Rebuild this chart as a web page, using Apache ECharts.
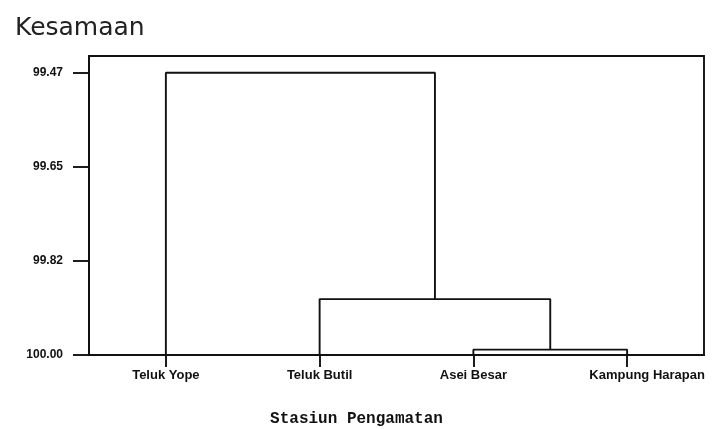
<!DOCTYPE html>
<html>
<head>
<meta charset="utf-8">
<title>Dendrogram Kesamaan Stasiun</title>
<script src="https://cdn.jsdelivr.net/npm/echarts@6/dist/echarts.min.js"></script>
<style>
  html, body { margin: 0; padding: 0; background: #fff; }
  #chart { width: 712px; height: 429px; }
</style>
</head>
<body>
<div id="chart"></div>
<script>
// Observation stations, in leaf order along the horizontal axis
const stations = ['Teluk Yope', 'Teluk Butil', 'Asei Besar', 'Kampung Harapan'];

// Agglomeration steps: each joins two members at a similarity level.
// A string is a station; a number refers to the cluster made at that step (1-based).
const joinLeft = ['Asei Besar', 'Teluk Butil', 'Teluk Yope'];
const joinRight = ['Kampung Harapan', 1, 2];
const joinSimilarity = [99.990, 99.895, 99.47];

// Similarity axis tick values (evenly spaced between min similarity and 100)
const similarityTicks = [99.47, 99.6467, 99.8233, 100.00];

const leafLevel = 100;
const clusters = [];
function locate(member) {
  if (typeof member === 'string') {
    return { x: stations.indexOf(member), h: leafLevel };
  }
  return clusters[member - 1];
}

const links = [];
for (let i = 0; i < joinSimilarity.length; i++) {
  const a = locate(joinLeft[i]);
  const b = locate(joinRight[i]);
  const h = joinSimilarity[i];
  links.push([[a.x, a.h], [a.x, h], [b.x, h], [b.x, b.h]]);
  clusters.push({ x: (a.x + b.x) / 2, h: h });
}

const ink = '#111';
const stroke = 1.9;
const labelFont = {
  color: '#111',
  fontFamily: 'Liberation Sans',
  fontWeight: 'bold',
  fontSize: 13
};

const chart = echarts.init(document.getElementById('chart'), null, { renderer: 'canvas' });

chart.setOption({
  animation: false,
  backgroundColor: '#fff',
  title: {
    text: 'Kesamaan',
    left: 10,
    top: 11,
    textStyle: {
      fontFamily: 'DejaVu Sans',
      fontSize: 25,
      fontWeight: 'normal',
      color: '#222'
    }
  },
  grid: {
    left: 89,
    right: 8,
    top: 56,
    bottom: 74,
    show: true,
    borderColor: ink,
    borderWidth: stroke,
    outerBoundsMode: 'none'
  },
  xAxis: [
    {
      type: 'category',
      data: stations,
      boundaryGap: true,
      axisLine: { onZero: false, lineStyle: { color: ink, width: stroke } },
      axisTick: {
        show: true,
        interval: 0,
        alignWithLabel: true,
        inside: false,
        length: 12,
        lineStyle: { color: ink, width: stroke }
      },
      axisLabel: Object.assign({
        interval: 0,
        margin: 14,
        formatter: function (v, i) {
          return i === stations.length - 1 ? '{last|' + v + '}' : v;
        },
        rich: {
          last: Object.assign({ padding: [0, 0, 0, 40] }, labelFont)
        }
      }, labelFont),
      splitLine: { show: false },
      name: 'Stasiun Pengamatan',
      nameLocation: 'middle',
      nameGap: 56,
      nameTextStyle: {
        fontFamily: 'Liberation Mono',
        fontWeight: 'bold',
        fontSize: 16,
        color: '#111',
        padding: [0, 80, 0, 0]
      }
    },
    {
      type: 'value',
      min: -0.5,
      max: stations.length - 0.5,
      show: false
    }
  ],
  yAxis: {
    type: 'value',
    inverse: true,
    min: similarityTicks[0] - 0.0314,
    max: 100,
    axisLine: { show: true, onZero: false, lineStyle: { color: ink, width: stroke } },
    axisTick: {
      show: true,
      length: 16,
      customValues: similarityTicks,
      lineStyle: { color: ink, width: stroke }
    },
    axisLabel: Object.assign({
      customValues: similarityTicks,
      margin: 26,
      formatter: function (v) { return v.toFixed(2); }
    }, labelFont, { fontSize: 12 }),
    splitLine: { show: false }
  },
  series: links.map(function (pts) {
    return {
      type: 'line',
      xAxisIndex: 1,
      yAxisIndex: 0,
      data: pts,
      symbol: 'none',
      silent: true,
      lineStyle: { color: ink, width: stroke }
    };
  })
});
</script>
</body>
</html>
